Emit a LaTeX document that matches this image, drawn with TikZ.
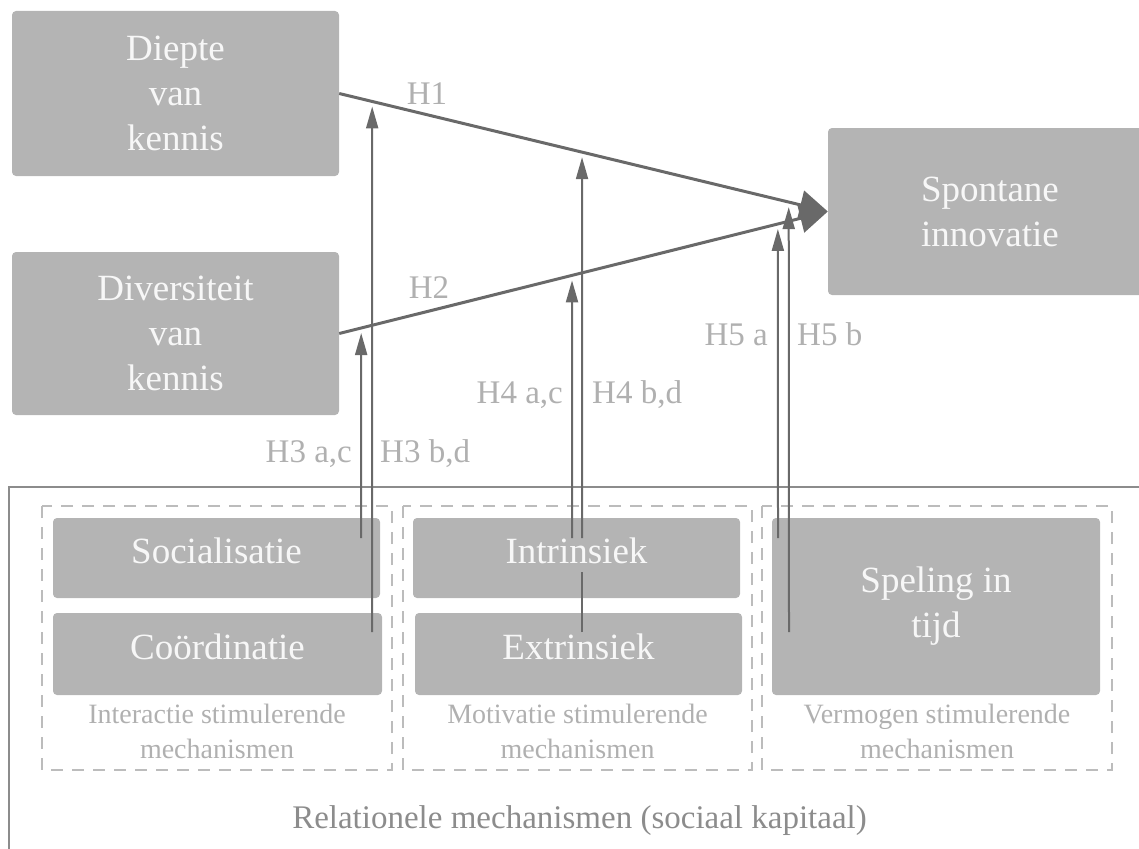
\documentclass[tikz,border=0pt]{standalone}
\usepackage{fontspec}
\setmainfont{Liberation Serif}
\usepackage{xcolor}
\usepackage{tikz}
\usetikzlibrary{positioning}
\usetikzlibrary{calc,arrows.meta}

\definecolor{boxgrey}{RGB}{180,180,180}
\definecolor{linegrey}{RGB}{105,105,105}
\definecolor{labelgrey}{RGB}{176,176,176}
\definecolor{framegrey}{RGB}{140,140,140}
\definecolor{dashgrey}{RGB}{188,188,188}

\tikzset{
  blok/.style={fill=boxgrey, rounded corners=4pt, text=white!97!black, align=center,
    inner sep=0pt, font=\fontsize{37}{45}\selectfont},
  enkel/.style={text height=26pt, text depth=16pt},
  hyp/.style={draw=linegrey, line width=2pt, -{Triangle[length=22pt,width=12pt]}, shorten >=5pt},
  hypline/.style={draw=linegrey, line width=2pt},
  hoofd/.style={draw=linegrey, line width=3pt, -{Triangle[length=28pt,width=29pt]}},
  hlabel/.style={text=labelgrey, font=\fontsize{33}{38}\selectfont, inner sep=0pt},
  groep/.style={draw=dashgrey, line width=1.5pt, dash pattern=on 12pt off 9pt},
  groeplabel/.style={text=labelgrey, align=center, font=\fontsize{28}{35}\selectfont, inner sep=0pt}
}

\begin{document}
\begin{tikzpicture}[x=1pt,y=-1pt]
            \useasboundingbox (0,0) rectangle (1139,848);
            \clip (0,0) rectangle (1139,848);
            % Kennis and innovatie
            \node[blok, minimum width=327pt, minimum height=165pt] (diepte) at (175.5,93.5) {Diepte\\van\\kennis};
            \node[blok, minimum width=327pt, minimum height=163pt] (divers) at (175.5,333.5) {Diversiteit\\van\\kennis};
            \node[blok, minimum width=324pt, minimum height=167pt] (spont) at (990,211.5) {Spontane\\innovatie};

            % Relationele mechanismen
            \draw[framegrey, line width=2pt] (9,487) rectangle (1170,880);
            \draw[groep] (42,506) rectangle (392,770);
            \draw[groep] (403,506) rectangle (752,770);
            \draw[groep] (762,506) rectangle (1112,770);
            \node[blok, enkel, minimum width=327pt, minimum height=80pt] (soc) at (216.5,558) {Socialisatie};
            \node[blok, enkel, minimum width=329pt, minimum height=82pt] (coord) at (217.5,654) {Coördinatie};
            \node[blok, enkel, minimum width=327pt, minimum height=80pt] (intr) at (576.5,558) {Intrinsiek};
            \node[blok, enkel, minimum width=327pt, minimum height=82pt] (extr) at (578.5,654) {Extrinsiek};
            \node[blok, minimum width=328pt, minimum height=177pt] (speling) at (936,606.5) {Speling in\\tijd};
            \node[groeplabel] (interactie) at (217,731) {Interactie stimulerende\\mechanismen};
            \node[groeplabel] (motivatie) at (577.5,731) {Motivatie stimulerende\\mechanismen};
            \node[groeplabel] (vermogen) at (937,731) {Vermogen stimulerende\\mechanismen};
            \node[anchor=base, text=framegrey, font=\fontsize{33}{40}\selectfont, inner sep=0pt] (relationeel) at (579.5,828) {Relationele mechanismen (sociaal kapitaal)};

            % H1, H2
            \draw[hoofd] (diepte.east) -- (spont.west);
            \draw[hoofd] (divers.east) -- (spont.west);
            \node[hlabel, anchor=base] (h1) at (427,105) {H1};
            \node[hlabel, anchor=base] (h2) at (429,298) {H2};

            % H3 - H5
            \coordinate (h3a) at (361,538);
            \coordinate (h3b) at (372,632);
            \coordinate (h4a) at (572,538);
            \coordinate (h4b) at (582,632);
            \coordinate (h4bgap) at (582,572);
            \coordinate (h4btop) at (582,538);
            \coordinate (h5a) at (778,538);
            \coordinate (h5b) at (789,632);
            \draw[hyp] (h3a) -- ($(divers.east)!0.045!(spont.west)$);
            \draw[hyp] (h3b) -- ($(diepte.east)!0.0675!(spont.west)$);
            \draw[hyp] (h4a) -- ($(divers.east)!0.4765!(spont.west)$);
            \draw[hypline] (h4b) -- (h4bgap);
            \draw[hyp] (h4btop) -- ($(diepte.east)!0.497!(spont.west)$);
            \draw[hyp] (h5a) -- ($(divers.east)!0.8978!(spont.west)$);
            \draw[hyp] (h5b) -- ($(diepte.east)!0.92!(spont.west)$);
            \node[hlabel, anchor=base east] (h3ac) at (352,462) {H3 a,c};
            \node[hlabel, anchor=base west] (h3bd) at (380,462) {H3 b,d};
            \node[hlabel, anchor=base east] (h4ac) at (563,403) {H4 a,c};
            \node[hlabel, anchor=base west] (h4bd) at (592,403) {H4 b,d};
            \node[hlabel, anchor=base east] (h5al) at (768,345) {H5 a};
            \node[hlabel, anchor=base west] (h5bl) at (797,345) {H5 b};
        \end{tikzpicture}
\end{document}
